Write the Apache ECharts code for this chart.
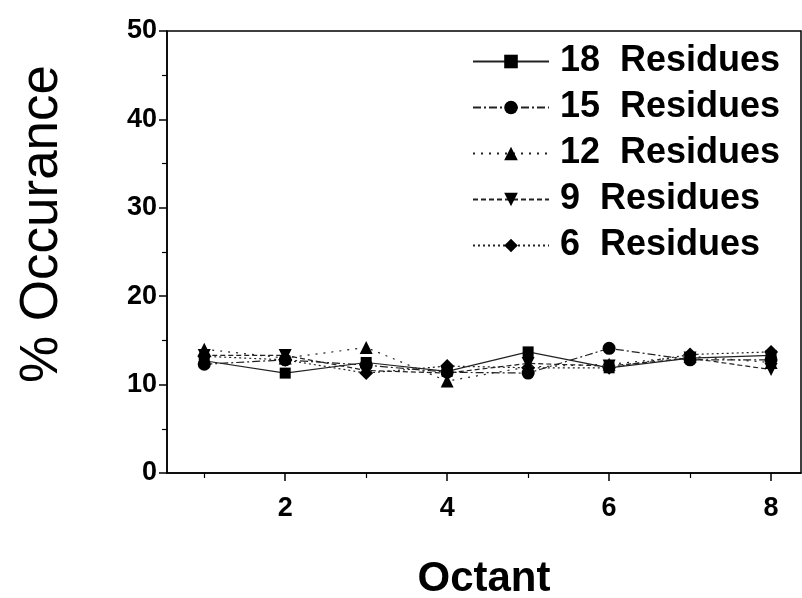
<!DOCTYPE html>
<html>
<head>
<meta charset="utf-8">
<script src="https://cdn.jsdelivr.net/npm/echarts@6/dist/echarts.min.js"></script>
<style>
html,body{margin:0;padding:0;background:#fff;}
#chart{width:802px;height:598px;}
</style>
</head>
<body>
<div id="chart"></div>
<script>
const octants = [1, 2, 3, 4, 5, 6, 7, 8];
const seriesNames = ['18  Residues', '15  Residues', '12  Residues', '9  Residues', '6  Residues'];
const res18 = [12.7, 11.3, 12.5, 11.5, 13.7, 11.9, 13.0, 13.3];
const res15 = [12.3, 12.8, 12.2, 11.4, 11.3, 14.1, 12.8, 12.8];
const res12 = [14.0, 13.0, 14.2, 10.4, 12.0, 12.3, 13.2, 12.5];
const res9  = [13.3, 13.3, 11.6, 11.3, 12.4, 12.1, 13.0, 11.7];
const res6  = [13.2, 12.8, 11.3, 12.1, 11.9, 11.9, 13.4, 13.7];
const yTicks = [0, 10, 20, 30, 40, 50];
const xTicks = [2, 4, 6, 8];
const xMinorTicks = [1, 3, 5, 7];

const values = [res18, res15, res12, res9, res6];
const symbols = ['rect', 'circle', 'triangle', 'triangle', 'diamond'];
const rotates = [0, 0, 0, 180, 0];
const sizes = [11, 13, 13, 13, 14];
const dashes = ['solid', [8, 3, 2, 3], [2, 6], [5, 3], [2, 3]];

const chart = echarts.init(document.getElementById('chart'));
const font = 'Liberation Sans, Arial, sans-serif';
const X_MIN = 0.54, X_MAX = 8.37;

chart.setOption({
  animation: false,
  backgroundColor: '#fff',
  grid: { left: 167, right: 1, top: 31, bottom: 125, show: true, borderColor: '#000', borderWidth: 1.5, containLabel: false, outerBoundsMode: 'none' },
  legend: {
    orient: 'vertical',
    left: 467,
    top: 38,
    itemWidth: 76,
    itemHeight: 17,
    itemGap: 9,
    data: seriesNames,
    textStyle: { fontFamily: font, fontWeight: 'bold', fontSize: 36, color: '#000', lineHeight: 37, padding: [0, 0, 0, 6] }
  },
  xAxis: [{
    type: 'value',
    min: X_MIN,
    max: X_MAX,
    name: 'Octant',
    nameLocation: 'middle',
    nameGap: 85,
    nameTextStyle: { fontFamily: font, fontWeight: 'bold', fontSize: 42, color: '#000' },
    axisLine: { onZero: false, lineStyle: { color: '#000', width: 1.5 } },
    axisTick: { length: 8, lineStyle: { color: '#000', width: 1.5 }, customValues: xTicks },
    splitLine: { show: false },
    axisLabel: { customValues: xTicks, margin: 22, fontFamily: font, fontWeight: 'bold', fontSize: 27, color: '#000' }
  }, {
    type: 'value',
    position: 'bottom',
    min: X_MIN,
    max: X_MAX,
    axisLine: { show: false, onZero: false },
    axisTick: { length: 5, lineStyle: { color: '#000', width: 1.2 }, customValues: xMinorTicks },
    axisLabel: { show: false },
    splitLine: { show: false }
  }],
  yAxis: {
    type: 'value',
    min: 0,
    max: 50,
    interval: 10,
    name: '% Occurance',
    nameLocation: 'middle',
    nameGap: 98,
    nameTextStyle: { fontFamily: font, fontSize: 53, color: '#000', padding: [0, 0, 0, 56] },
    axisLine: { lineStyle: { color: '#000', width: 1.5 } },
    axisTick: { length: 8, lineStyle: { color: '#000', width: 1.5 } },
    minorTick: { show: true, splitNumber: 2, length: 5, lineStyle: { color: '#000', width: 1.2 } },
    splitLine: { show: false },
    axisLabel: { margin: 10, fontFamily: font, fontWeight: 'bold', fontSize: 27, color: '#000' }
  },
  series: seriesNames.map((name, i) => ({
    name: name,
    type: 'line',
    xAxisIndex: 0,
    data: octants.map((x, j) => [x, values[i][j]]),
    symbol: symbols[i],
    symbolSize: sizes[i],
    symbolRotate: rotates[i],
    showAllSymbol: true,
    itemStyle: { color: '#000' },
    lineStyle: { color: '#222', width: 1.2, type: dashes[i] },
    z: 10 - i
  }))
});
</script>
</body>
</html>
